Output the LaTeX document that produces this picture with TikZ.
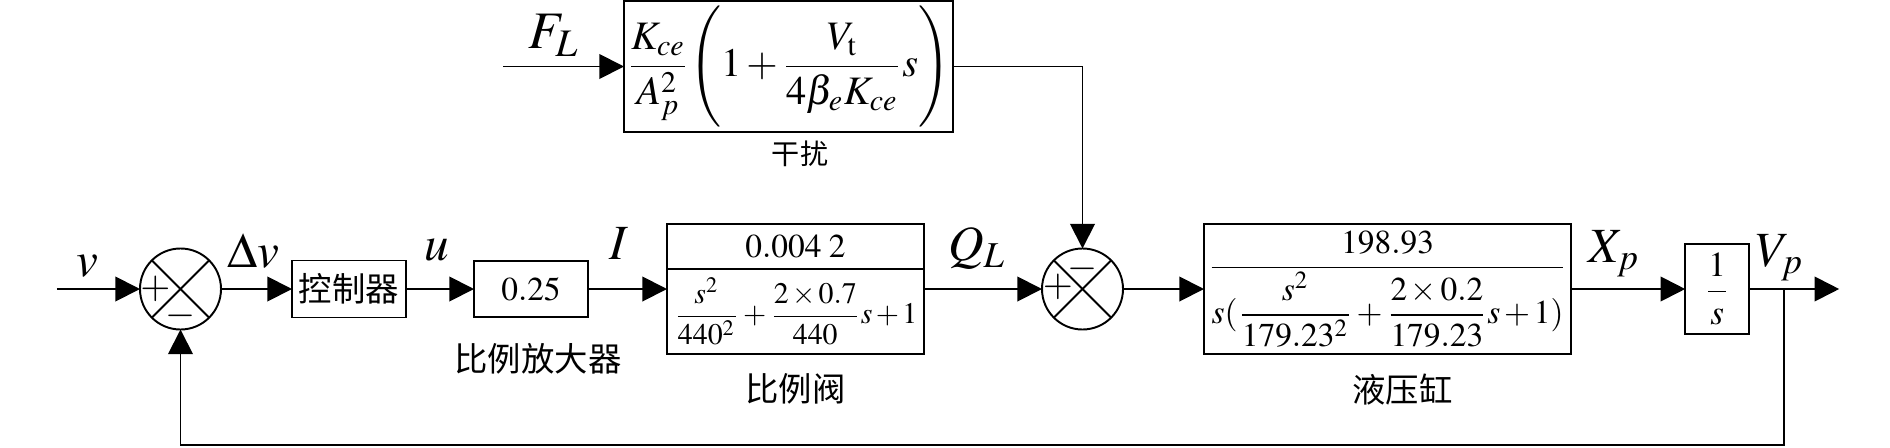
\documentclass[tikz,border=0pt]{standalone}
\usepackage{amsmath}
\usepackage{mathptmx}
\usepackage{fontspec}
\setmainfont{Liberation Serif}
\newfontfamily\cjk{Noto Sans CJK SC}
\usetikzlibrary{arrows.meta,positioning,calc}

\begin{document}
\begin{tikzpicture}[node distance=0.7cm, >={Triangle[length=7pt,width=7pt]}, line width=0.55pt, every node/.style={font=\fontsize{9.5}{11}\selectfont, outer sep=0pt}]
\tikzstyle{blk}=[draw, inner sep=1pt, align=center]
\tikzstyle{sumnode}=[draw, circle, minimum size=0.81cm, inner sep=0pt]
\tikzstyle{sig}=[inner sep=0pt, font=\fontsize{14}{16}\selectfont]
\tikzstyle{blkname}=[inner sep=0pt, font=\fontsize{9.5}{11}\selectfont\cjk]
\tikzstyle{sgn}=[inner sep=0pt, font=\fontsize{11}{12}\selectfont]
\useasboundingbox (0,0) rectangle (18.9,-4.47);
% main chain
\node[sumnode] (sum1) at (1.805,-2.89) {};
\coordinate[left=0.83cm of sum1] (in);
\node[blk, minimum width=1.14cm, minimum height=0.57cm, right=0.71cm of sum1, font=\fontsize{9.5}{11}\selectfont\cjk] (ctrl) {控制器};
\node[blk, minimum width=1.14cm, minimum height=0.56cm, right=0.68cm of ctrl] (amp) {$0.25$};
\node[blk, minimum width=2.57cm, minimum height=1.30cm, right=0.79cm of amp] (valve) {};
\node[sumnode, right=1.18cm of valve] (sum2) {};
\node[blk, minimum width=3.60cm, minimum height=1.30cm, right=0.81cm of sum2] (cyl) {$\medmuskip=2mu\dfrac{198.93}{s(\dfrac{s^2}{179.23^2}+\dfrac{2\times 0.2}{179.23}s+1)}$};
\node[blk, minimum width=0.64cm, minimum height=0.90cm, right=1.14cm of cyl, font=\fontsize{10}{12}\selectfont] (integ) {$\dfrac{1}{s}$};
\coordinate[right=0.35cm of integ] (branch);
\coordinate[right=0.90cm of integ] (out);
\coordinate (fbk) at ($(branch)+(0,-1.56)$);
% disturbance
\node[blk, inner sep=0pt, minimum width=3.29cm, minimum height=1.31cm, font=\fontsize{11.5}{13}\selectfont] (dist) at (7.885,-0.665) {$\medmuskip=2mu\dfrac{K_{ce}}{A_p^2}\Biggl(1+\dfrac{V_{\mathrm{t}}}{4\beta_e K_{ce}}s\Biggr)$};
\coordinate[left=1.21cm of dist] (fin);
% valve parts
\draw ([yshift=-0.45cm]valve.north west) -- ([yshift=-0.45cm]valve.north east);
\node (valvek) at ([yshift=-0.225cm]valve.north) {$0.004\;2$};
\node[font=\fontsize{8.5}{10}\selectfont] (valvetf) at ([yshift=0.425cm]valve.south) {$\medmuskip=2mu\dfrac{s^2}{440^2}+\dfrac{2\times 0.7}{440}s+1$};
% summing junctions
\foreach \s in {sum1,sum2}{
  \draw (\s.north west) -- (\s.south east);
  \draw (\s.north east) -- (\s.south west);
}
\node[sgn] (p1) at ([xshift=-0.25cm]sum1.center) {$+$};
\node[sgn] (m1) at ([yshift=-0.265cm]sum1.center) {$-$};
\node[sgn] (p2) at ([xshift=-0.245cm,yshift=0.02cm]sum2.center) {$+$};
\node[sgn] (m2) at ([yshift=0.2cm]sum2.center) {$-$};
% names
\node[blkname, below=0.26cm of amp, xshift=0.07cm] (ampname) {比例放大器};
\node[blkname, below=0.19cm of valve] (valvename) {比例阀};
\node[blkname, below=0.2cm of cyl, xshift=0.15cm] (cylname) {液压缸};
\node[blkname, below=0.085cm of dist, xshift=0.115cm, font=\fontsize{8}{10}\selectfont\cjk] (distname) {干扰};
% signals
\node[sig] (lv) at (0.87,-2.66) {$v$};
\node[sig] (ldv) at (2.53,-2.51) {$\Delta v$};
\node[sig] (lu) at (4.37,-2.50) {$u$};
\node[sig] (li) at (6.19,-2.435) {$I$};
\node[sig] (lq) at (9.77,-2.48) {$Q_L$};
\node[sig] (lx) at (16.14,-2.54) {$X_p$};
\node[sig] (lvp) at (17.80,-2.575) {$V_p$};
\node[sig, font=\fontsize{15}{17}\selectfont] (lf) at (5.54,-0.35) {$F_L$};
% connections
\draw[->] (in) -- (sum1.west);
\draw[->] (sum1.east) -- (ctrl.west);
\draw[->] (ctrl) -- (amp);
\draw[->] (amp.east) -- (amp.east -| valve.west);
\draw[->] (valve.east |- sum2) -- (sum2.west);
\draw[->] (sum2.east) -- (sum2 -| cyl.west);
\draw[->] (cyl.east |- integ) -- (integ.west);
\draw[->] (integ.east) -- (out);
\draw[->] (branch) -- (fbk) -| (sum1.south);
\draw[->] (fin) -- (dist.west);
\draw[->] (dist.east) -| (sum2.north);
\end{tikzpicture}
\end{document}
